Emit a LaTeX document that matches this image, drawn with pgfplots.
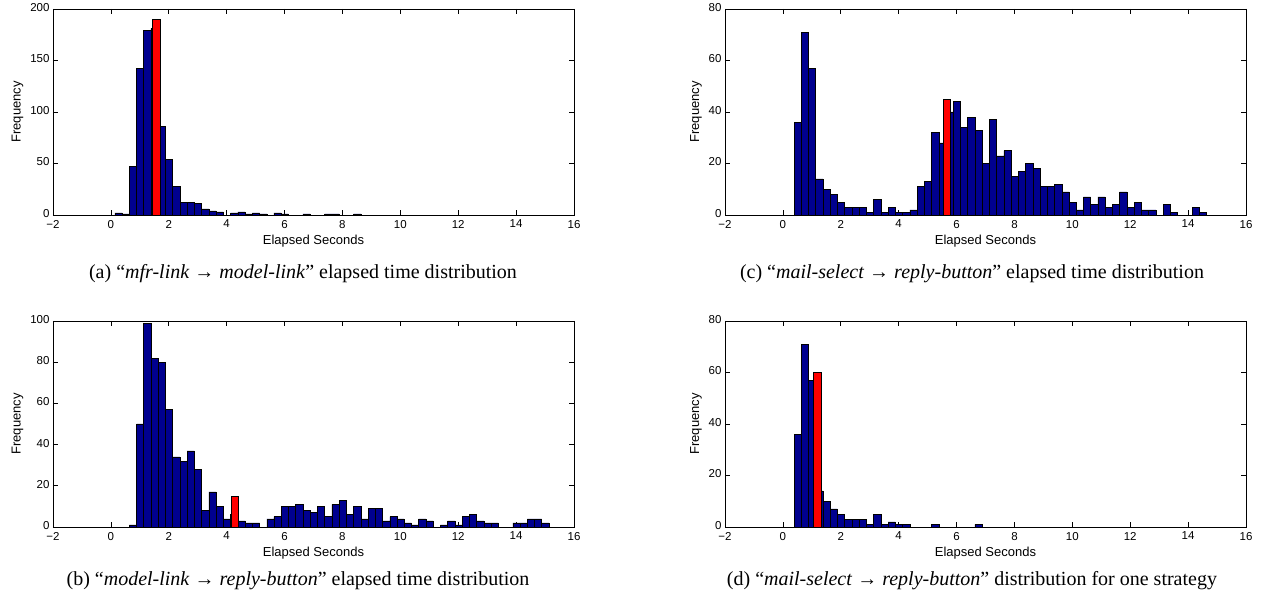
\documentclass[border=0pt]{standalone}
\usepackage{fontspec}
\setmainfont{Liberation Sans}
\newfontfamily\capfont{Liberation Serif}
\usepackage{pgfplots}
\pgfplotsset{compat=1.18}
\definecolor{matnavy}{RGB}{0,0,143}

\pgfplotsset{
  histo/.style={
    scale only axis, width=521pt, height=206pt,
    xmin=-2, xmax=16, ymin=0,
    xtick={-2,0,...,16},
    xticklabels={−2,0,2,4,6,8,10,12,14,16},
    tick align=inside, major tick length=5pt,
    axis line style={line width=0.9pt},
    tick style={line width=0.6pt, black},
    tick label style={font=\fontsize{11.5}{12}\selectfont},
    xticklabel style={yshift=-1.5pt},
    yticklabel style={yshift=1.5pt},
    /pgf/number format/assume math mode=true,
    label style={font=\fontsize{13}{15}\selectfont},
    xlabel={Elapsed Seconds}, ylabel={Frequency},
    xlabel style={at={(axis description cs:0.5,-0.125)}, anchor=center},
  },
  bluebar/.style={ybar, bar width=0.25, fill=matnavy, draw=black, line width=0.5pt},
  redbar/.style={ybar, fill=red, draw=black, line width=0.5pt},
}

\begin{document}
\begin{tikzpicture}
\useasboundingbox (0,0) rectangle (1278pt,601pt);

% (a) mfr-link -> model-link
\begin{axis}[histo, at={(53pt,386pt)}, anchor=south west,
  ymax=200, ytick={0,50,...,200}]
\addplot[bluebar] coordinates {
  (0.26,2) (0.51,1) (0.76,47) (1.01,142) (1.26,179) (1.51,181) (1.76,86)
  (2.01,54) (2.26,28) (2.51,12) (2.76,12) (3.01,11) (3.26,6) (3.51,4)
  (3.76,3) (4.26,2) (4.51,3) (4.76,1) (5.01,2) (5.26,1) (5.76,2) (6.01,1)
  (6.76,1) (7.51,1) (7.76,1) (8.51,1)
};
\addplot[redbar, bar width=0.28] coordinates {(1.555,190)};
\end{axis}

% (b) model-link -> reply-button
\begin{axis}[histo, at={(53pt,74pt)}, anchor=south west,
  ymax=100, ytick={0,20,...,100}]
\addplot[bluebar] coordinates {
  (0.76,1) (1.01,50) (1.26,99) (1.51,82) (1.76,80) (2.01,57) (2.26,34)
  (2.51,32) (2.76,37) (3.01,28) (3.26,8) (3.51,17) (3.76,10) (4.01,4)
  (4.26,6) (4.51,3) (4.76,2) (5.01,2) (5.51,4) (5.76,5) (6.01,10)
  (6.26,10) (6.51,11) (6.76,8) (7.01,7) (7.26,10) (7.51,5) (7.76,11)
  (8.01,13) (8.26,6) (8.51,10) (8.76,4) (9.01,9) (9.26,9) (9.51,3)
  (9.76,5) (10.01,4) (10.26,2) (10.51,1) (10.76,4) (11.01,3) (11.51,1)
  (11.76,3) (12.01,1) (12.26,5) (12.51,6) (12.76,3) (13.01,2) (13.26,2)
  (14.01,2) (14.26,2) (14.51,4) (14.76,4) (15.01,2)
};
\addplot[redbar, bar width=0.23] coordinates {(4.29,15)};
\end{axis}

% (c) mail-select -> reply-button
\begin{axis}[histo, at={(725pt,386pt)}, anchor=south west,
  ymax=80, ytick={0,20,...,80}]
\addplot[bluebar] coordinates {
  (0.51,36) (0.76,71) (1.01,57) (1.26,14) (1.51,10) (1.76,8) (2.01,5)
  (2.26,3) (2.51,3) (2.76,3) (3.01,1) (3.26,6) (3.51,1) (3.76,3)
  (4.01,1) (4.26,1) (4.51,2) (4.76,11) (5.01,13) (5.26,32) (5.51,28)
  (5.76,40) (6.01,44) (6.26,34) (6.51,38) (6.76,33) (7.01,20) (7.26,37)
  (7.51,23) (7.76,25) (8.01,15) (8.26,17) (8.51,20) (8.76,18) (9.01,11)
  (9.26,11) (9.51,12) (9.76,9) (10.01,5) (10.26,2) (10.51,7) (10.76,4)
  (11.01,7) (11.26,3) (11.51,4) (11.76,9) (12.01,3) (12.26,5) (12.51,2)
  (12.76,2) (13.26,4) (13.51,1) (14.26,3) (14.51,1)
};
\addplot[redbar, bar width=0.25] coordinates {(5.67,45)};
\end{axis}

% (d) mail-select -> reply-button, one strategy
\begin{axis}[histo, at={(725pt,74pt)}, anchor=south west,
  ymax=80, ytick={0,20,...,80}]
\addplot[bluebar] coordinates {
  (0.51,36) (0.76,71) (1.01,57) (1.26,14) (1.51,10) (1.76,7) (2.01,5)
  (2.26,3) (2.51,3) (2.76,3) (3.01,1) (3.26,5) (3.51,1) (3.76,2)
  (4.01,1) (4.26,1) (5.26,1) (6.76,1)
};
\addplot[redbar, bar width=0.26] coordinates {(1.18,60)};
\end{axis}

\begin{scope}[every node/.style={anchor=base, font=\capfont\fontsize{20}{24}\selectfont}]
\node at (303pt,322pt) {(a) “\textit{mfr-link} → \textit{model-link}” elapsed time distribution};
\node at (298pt,15pt) {(b) “\textit{model-link} → \textit{reply-button}” elapsed time distribution};
\node at (972pt,322pt) {(c) “\textit{mail-select} → \textit{reply-button}” elapsed time distribution};
\node at (972pt,15pt) {(d) “\textit{mail-select} → \textit{reply-button}” distribution for one strategy};
\end{scope}
\end{tikzpicture}
\end{document}
